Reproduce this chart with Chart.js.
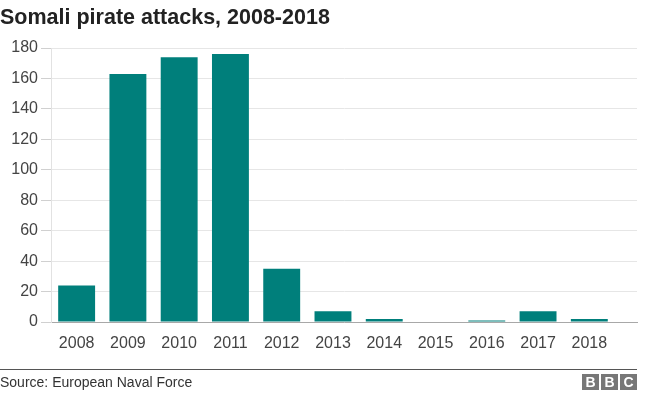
<!DOCTYPE html>
<html>
<head>
<meta charset="utf-8">
<script src="https://cdn.jsdelivr.net/npm/chart.js@4/dist/chart.umd.min.js"></script>
<style>
  html, body { margin: 0; padding: 0; background: #fff; }
  body { width: 672px; height: 395px; position: relative; overflow: hidden; font-family: "Liberation Sans", Arial, Helvetica, sans-serif; }
  #title { position: absolute; left: 0; top: 5px; font-size: 21.5px; font-weight: bold; color: #222; white-space: nowrap; }
  #wrap { position: absolute; left: 0; top: 0; width: 672px; height: 395px; }
  #rule { position: absolute; left: 0; top: 369px; width: 637px; height: 0; border-top: 1.5px solid #555; }
  #source { position: absolute; left: 0; top: 374px; font-size: 14px; color: #333; white-space: nowrap; }
  #bbc { position: absolute; left: 582px; top: 374px; display: flex; gap: 2px; }
  #bbc span { display: block; width: 17px; height: 16px; background: #777; color: #fff; font-weight: bold; font-size: 14px; line-height: 16px; text-align: center; }
</style>
</head>
<body>
<div id="wrap"><canvas id="c" width="672" height="395"></canvas></div>
<div id="title">Somali pirate attacks, 2008-2018</div>
<div id="rule"></div>
<div id="source">Source: European Naval Force</div>
<div id="bbc"><span>B</span><span>B</span><span>C</span></div>
<script>
const years = [2008, 2009, 2010, 2011, 2012, 2013, 2014, 2015, 2016, 2017, 2018];
const attacks = [24, 163, 174, 176, 35, 7, 2, 0, 1, 7, 2];
const yTicks = [0, 20, 40, 60, 80, 100, 120, 140, 160, 180];

const font = { family: "'Liberation Sans', Arial, Helvetica, sans-serif", size: 16 };

new Chart(document.getElementById('c'), {
  type: 'bar',
  data: {
    datasets: [{
      data: years.map((y, i) => ({ x: y, y: attacks[i] })),
      backgroundColor: '#007f7b',
      borderWidth: 0,
      categoryPercentage: 1,
      barPercentage: 0.72
    }]
  },
  options: {
    responsive: false,
    animation: false,
    devicePixelRatio: 1,
    layout: { padding: { left: 0, right: 35, top: 48, bottom: 33 } },
    plugins: { legend: { display: false }, tooltip: { enabled: false }, title: { display: false } },
    scales: {
      x: {
        type: 'linear',
        offset: false,
        min: 2007.5,
        max: 2018.93,
        afterFit: s => { s.height = 40; },
        afterBuildTicks: s => { s.ticks = years.map(v => ({ value: v })); },
        ticks: {
          stepSize: 1, includeBounds: false, autoSkip: false, maxRotation: 0,
          padding: 12, color: '#444', font,
          callback: v => String(v)
        },
        grid: { display: false, drawTicks: false },
        border: { display: true, color: '#a8a8a8', width: 1 }
      },
      y: {
        min: 0,
        max: 180,
        afterFit: s => { s.width = 51; },
        afterBuildTicks: s => { s.ticks = yTicks.map(v => ({ value: v })); },
        ticks: { padding: 3, color: '#444', font },
        grid: { color: '#e6e6e6', lineWidth: 1, drawTicks: true, tickLength: 10, tickColor: '#d0d0d0' },
        border: { display: true, color: '#e2e2e2', width: 1 }
      }
    }
  }
});
</script>
</body>
</html>
